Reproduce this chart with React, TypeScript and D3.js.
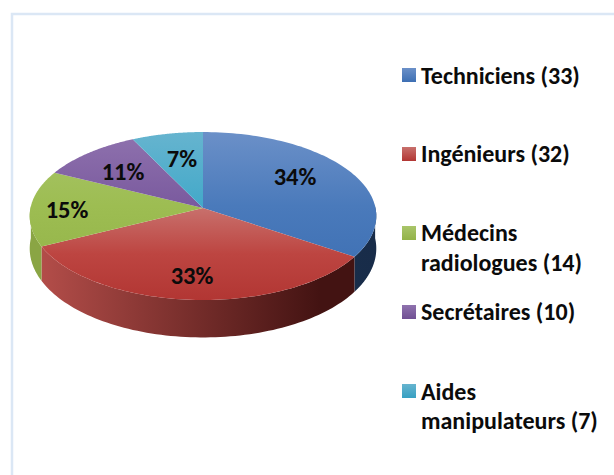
import React from "react";
import * as d3 from "d3";

const categories = ["Techniciens", "Ingénieurs", "Médecins radiologues", "Secrétaires", "Aides manipulateurs"];
const counts = [33, 32, 14, 10, 7];
const percentLabels = ["34%", "33%", "15%", "11%", "7%"];
const legendLines = [["Techniciens (33)"], ["Ingénieurs (32)"], ["Médecins", "radiologues (14)"], ["Secrétaires (10)"], ["Aides", "manipulateurs (7)"]];
const legendSwatchY = [75, 154, 233, 312, 391];
const legendBaselines = [[83.5], [162], [241, 271], [320], [399.5, 429]];
const topColors = [["#6b90c8", "#4a7abb", "#3d6fb3"], ["#c8706c", "#bd4541", "#b23633"], ["#a9c56a", "#9dbd52", "#93b348"], ["#8f72ae", "#7a5a9e", "#704f93"], ["#66b4cf", "#43a9c9", "#37a0c2"]];
const wallColors = [["#1c3657", "#182c49"], ["#b34d49", "#431312"], ["#8aa544", "#7f9a3e"], ["#5f4379", "#5f4379"], ["#2f7f99", "#2f7f99"]];
const labelPos = [[295, 185], [192, 284], [67, 218], [123, 180], [182, 167]];

const cx = 203, cy = 208, a = 172.5, b = 83.2, k = 0.0952;
const project = (angle: number, drop = 0): [number, number] => {
  const u = Math.sin(angle), v = -Math.cos(angle), w = 1 - k * v;
  const depth = drop ? 32 + 5.5 * v : 0;
  return [cx + (a * u) / w, cy + (b * v) / w + depth];
};
const arcs = d3.pie<number>().sort(null)(counts);
const line = d3.line();
const samples = (s: number, e: number) => d3.range(0, 81).map((i) => s + ((e - s) * i) / 80);

const topPath = (s: number, e: number) =>
  "M" + cx + "," + cy + "L" + samples(s, e).map((t) => project(t).join(",")).join("L") + "Z";

const wallPath = (s: number, e: number) => {
  const lo = Math.max(s, Math.PI / 2 - 0.02), hi = Math.min(e, 1.5 * Math.PI + 0.02);
  if (hi <= lo) return null;
  const ts = samples(lo, hi);
  return line([...ts.map((t) => project(t)), ...[...ts].reverse().map((t) => project(t, 1))]) + "Z";
};

export default function App() {
  return (
    <svg width={614} height={475} style={{ position: "absolute", left: 0, top: 0, background: "#fff" }} fontFamily="Carlito, Lato, 'Open Sans', sans-serif">
      <defs>
        {topColors.map((c, i) => (
          <linearGradient key={i} id={"top" + i} gradientUnits="userSpaceOnUse" x1={0} x2={0} y1={i === 1 ? 208 : 132} y2={i === 1 ? 300 : 280}>
            <stop offset="0" stopColor={c[0]} />
            <stop offset="0.5" stopColor={c[1]} />
            <stop offset="1" stopColor={c[2]} />
          </linearGradient>
        ))}
        {wallColors.map((c, i) => (
          <linearGradient key={i} id={"wall" + i} gradientUnits="userSpaceOnUse" x1={41} x2={i === 1 ? 320 : 377} y1={0} y2={0}>
            <stop offset="0" stopColor={c[0]} />
            <stop offset="1" stopColor={c[1]} />
          </linearGradient>
        ))}
        {topColors.map((c, i) => (
          <linearGradient key={i} id={"leg" + i} x1={0} x2={0} y1={0} y2={1}>
            <stop offset="0" stopColor={c[0]} />
            <stop offset="1" stopColor={c[2]} />
          </linearGradient>
        ))}
      </defs>
      <rect x={12} y={14} width={620} height={480} fill="#fff" stroke="#dbe7f5" strokeWidth={2.5} />
      {arcs.map((d, i) => {
        const p = wallPath(d.startAngle, d.endAngle);
        return p ? <path key={i} d={p} fill={`url(#wall${i})`} /> : null;
      })}
      {arcs.map((d, i) => (
        <path key={i} d={topPath(d.startAngle, d.endAngle)} fill={`url(#top${i})`} />
      ))}
      {percentLabels.map((t, i) => (
        <text key={t} x={labelPos[i][0]} y={labelPos[i][1]} textAnchor="middle" fontSize={24.5} fontWeight={700} fill="#0b0b0b">
          {t}
        </text>
      ))}
      {legendLines.map((ls, i) => (
        <g key={categories[i]}>
          <rect x={402} y={legendSwatchY[i] - 7} width={14} height={14} fill={`url(#leg${i})`} />
          {ls.map((l, j) => (
            <text key={l} x={421} y={legendBaselines[i][j]} fontSize={24} fontWeight={700} fill="#0b0b0b">
              {l}
            </text>
          ))}
        </g>
      ))}
    </svg>
  );
}
